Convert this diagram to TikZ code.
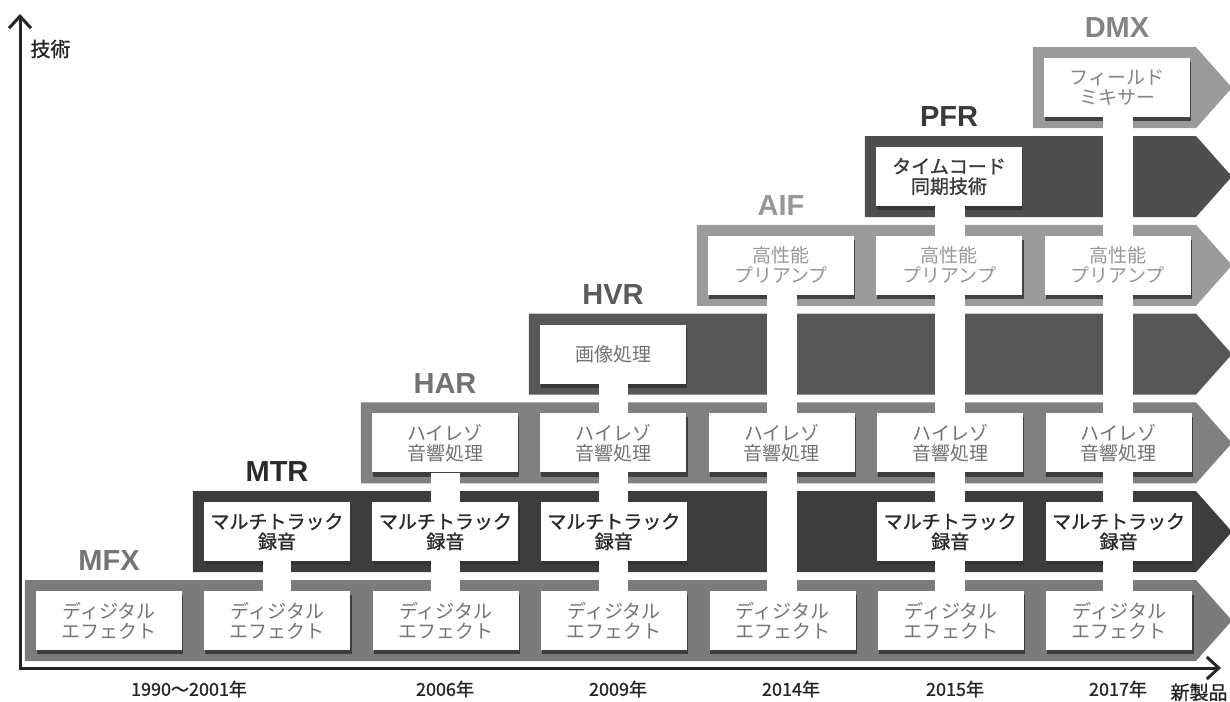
\documentclass[tikz,border=0pt]{standalone}
\usepackage{fontspec}
\setmainfont{Liberation Sans}
\newfontfamily\jp{Noto Sans CJK JP}
\newfontfamily\jpb[FakeBold=1.2]{Noto Sans CJK JP}
\usepackage{xcolor}
\usepackage{tikz}
\usetikzlibrary{positioning, arrows.meta, calc}

\definecolor{bandMFX}{HTML}{7B7B7B}
\definecolor{bandMTR}{HTML}{3D3D3D}
\definecolor{bandHAR}{HTML}{808080}
\definecolor{bandHVR}{HTML}{575757}
\definecolor{bandAIF}{HTML}{9B9B9B}
\definecolor{bandPFR}{HTML}{4E4E4E}
\definecolor{bandDMX}{HTML}{9A9A9A}
\definecolor{tagMFX}{HTML}{747474}
\definecolor{tagMTR}{HTML}{2A2A2A}
\definecolor{tagHAR}{HTML}{727272}
\definecolor{tagHVR}{HTML}{5A5A5A}
\definecolor{tagAIF}{HTML}{979797}
\definecolor{tagPFR}{HTML}{3A3A3A}
\definecolor{tagDMX}{HTML}{848484}

\pgfdeclarelayer{bands}
\pgfdeclarelayer{stems}
\pgfsetlayers{bands,stems,main}

% arrow-shaped band behind the boxes of one product
\newcommand{\techband}[2]{%
  \fill[#1] let \p1=(#2.west) in
    (\x1-11pt,\y1+40.5pt) -- (1196pt,\y1+40.5pt) -- (1232pt,\y1)
    -- (1196pt,\y1-40.5pt) -- (\x1-11pt,\y1-40.5pt) -- cycle;}

\begin{document}
\begin{tikzpicture}[
    x=1pt, y=-1pt,
    >={Straight Barb[length=12pt,width=22pt,line width=3pt]},
    box/.style={rectangle, fill=white, align=center, inner sep=0pt, minimum width=146pt, minimum height=59pt, font=\jp\fontsize{19}{20}\selectfont},
    darkbox/.style={box, font=\jpb\fontsize{19}{20}\selectfont},
    tag/.style={inner sep=0pt, font=\bfseries\fontsize{29}{29}\selectfont},
    year/.style={font=\jpb\fontsize{18}{18}\selectfont, text=black!85},
    stem/.style={fill=white},
    shade/.style={fill=black!80, opacity=0.85},
    axis/.style={line width=3pt, black!85},
    node distance=22pt % gap between two boxes of a band
]
\useasboundingbox (0,0) rectangle (1230,701);

% MFX
\node[box, text=tagMFX] (mfx1) at (109,620.5) {ディジタル\\エフェクト};
\node[box, text=tagMFX, right=of mfx1] (mfx2) {ディジタル\\エフェクト};
\node[box, text=tagMFX, right=of mfx2] (mfx3) {ディジタル\\エフェクト};
\node[box, text=tagMFX, right=of mfx3] (mfx4) {ディジタル\\エフェクト};
\node[box, text=tagMFX, right=of mfx4] (mfx5) {ディジタル\\エフェクト};
\node[box, text=tagMFX, right=of mfx5] (mfx6) {ディジタル\\エフェクト};
\node[box, text=tagMFX, right=of mfx6] (mfx7) {ディジタル\\エフェクト};

% MTR
\node[darkbox, text=tagMTR] (mtr2) at (277,531.7) {マルチトラック\\録音};
\node[darkbox, text=tagMTR, right=of mtr2] (mtr3) {マルチトラック\\録音};
\node[darkbox, text=tagMTR, right=of mtr3] (mtr4) {マルチトラック\\録音};
\node[darkbox, text=tagMTR, right=190pt of mtr4] (mtr6) {マルチトラック\\録音};
\node[darkbox, text=tagMTR, right=of mtr6] (mtr7) {マルチトラック\\録音};

% HAR
\node[box, text=tagHAR] (har3) at (445,442.9) {ハイレゾ\\音響処理};
\node[box, text=tagHAR, right=of har3] (har4) {ハイレゾ\\音響処理};
\node[box, text=tagHAR, right=of har4] (har5) {ハイレゾ\\音響処理};
\node[box, text=tagHAR, right=of har5] (har6) {ハイレゾ\\音響処理};
\node[box, text=tagHAR, right=of har6] (har7) {ハイレゾ\\音響処理};

% HVR
\node[box, text=tagHAR] (hvr4) at (613,354.1) {画像処理};

% AIF
\node[box, text=tagAIF] (aif5) at (781,265.3) {高性能\\プリアンプ};
\node[box, text=tagAIF, right=of aif5] (aif6) {高性能\\プリアンプ};
\node[box, text=tagAIF, right=of aif6] (aif7) {高性能\\プリアンプ};

% PFR
\node[darkbox, text=tagPFR] (pfr6) at (949,176.5) {タイムコード\\同期技術};

% DMX
\node[box, text=tagDMX] (dmx7) at (1117,87.7) {フィールド\\ミキサー};

% product names
\node[tag, text=tagMFX, above=20pt of mfx1] (lmfx) {MFX};
\node[tag, text=tagMTR, above=20pt of mtr2] (lmtr) {MTR};
\node[tag, text=tagHAR, above=20pt of har3] (lhar) {HAR};
\node[tag, text=tagHVR, above=20pt of hvr4] (lhvr) {HVR};
\node[tag, text=tagAIF, above=20pt of aif5] (laif) {AIF};
\node[tag, text=tagPFR, above=20pt of pfr6] (lpfr) {PFR};
\node[tag, text=tagDMX, above=20pt of dmx7] (ldmx) {DMX};

\begin{pgfonlayer}{bands}
\techband{bandMFX}{mfx1}
\techband{bandMTR}{mtr2}
\techband{bandHAR}{har3}
\techband{bandHVR}{hvr4}
\techband{bandAIF}{aif5}
\techband{bandPFR}{pfr6}
\techband{bandDMX}{dmx7}
\foreach \b in {mfx1,mfx2,mfx3,mfx4,mfx5,mfx6,mfx7,mtr2,mtr3,mtr4,mtr6,mtr7,har3,har4,har5,har6,har7,hvr4,aif5,aif6,aif7,pfr6,dmx7}
  \fill[shade] ([shift={(1,4)}]\b.south west) rectangle ([shift={(1,4)}]\b.north east);
\end{pgfonlayer}

% stems down to the MFX row
\begin{pgfonlayer}{stems}
\fill[stem] ([xshift=-14pt]mtr2.south) rectangle ([xshift=14pt]mfx2.north);
\fill[stem] ([xshift=-14pt]har3.south) rectangle ([xshift=14pt]mfx3.north);
\fill[stem] ([xshift=-14pt]hvr4.south) rectangle ([xshift=14pt]mfx4.north);
\fill[stem] ([xshift=-14pt]aif5.south) rectangle ([xshift=14pt]mfx5.north);
\fill[stem] ([xshift=-14pt]pfr6.south) rectangle ([xshift=14pt]mfx6.north);
\fill[stem] ([xshift=-14pt]dmx7.south) rectangle ([xshift=14pt]mfx7.north);
\end{pgfonlayer}

% axes
\coordinate (origin) at (20,668);
\coordinate (techtip) at (20,14);
\coordinate (prodtip) at (1221,668);
\draw[axis, <->] (techtip) -- (origin) -- (prodtip);
\node[font=\jpb\fontsize{20}{20}\selectfont, text=black!85, anchor=west] (tech) at (27,49) {技術};
\node[font=\jpb\fontsize{19}{19}\selectfont, text=black!85, anchor=north west] (newprod) at (1167,680) {新製品};

% years
\node[year] (y01) at (189,689) {1990～2001年};
\node[year] (y06) at (445,689) {2006年};
\node[year] (y09) at (618,689) {2009年};
\node[year] (y14) at (791,689) {2014年};
\node[year] (y15) at (955,689) {2015年};
\node[year] (y17) at (1118,689) {2017年};

\end{tikzpicture}
\end{document}
